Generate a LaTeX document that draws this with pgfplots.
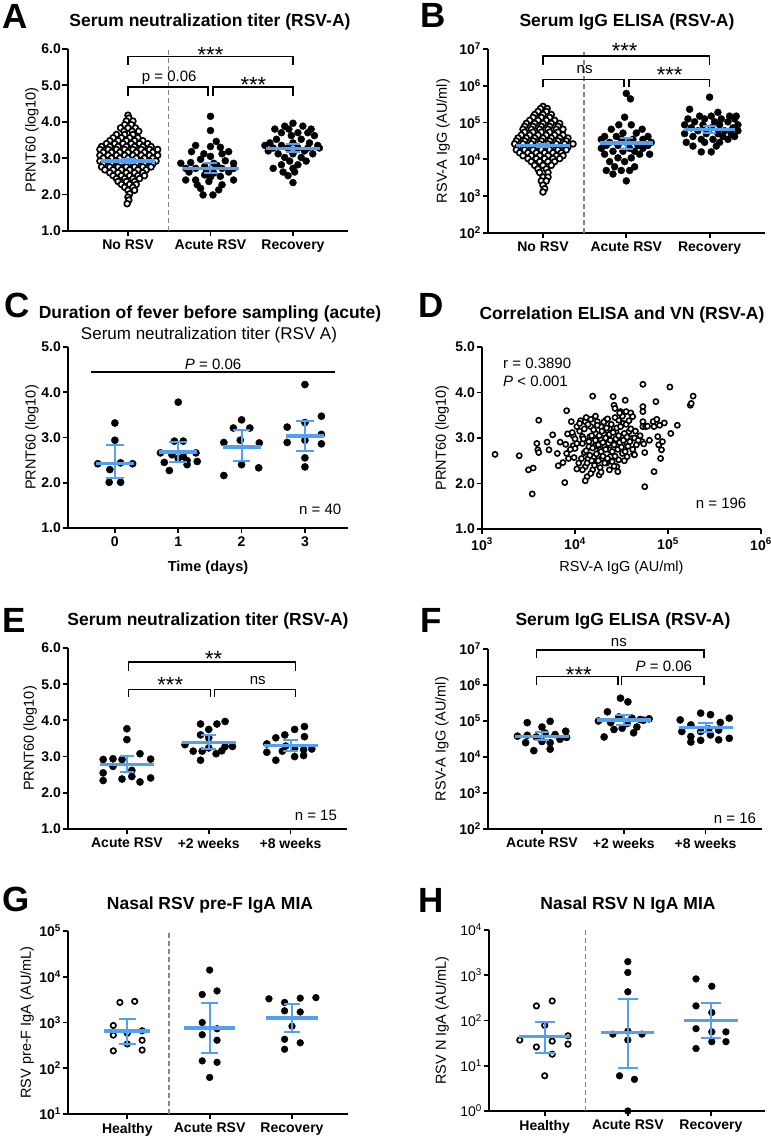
\documentclass[border=0pt]{standalone}
\usepackage{fontspec}
\setmainfont{Liberation Sans}
\usepackage{pgfplots}
\pgfplotsset{compat=1.18}
\definecolor{mblue}{RGB}{82,160,240}
\definecolor{dgray}{RGB}{135,135,135}
\newcommand{\tlf}{\fontsize{14}{16}\selectfont\bfseries}
\newcommand{\lbf}{\fontsize{14.5}{17}\selectfont}
\newcommand{\anf}{\fontsize{15}{17}\selectfont}
\newcommand{\asf}{\fontsize{22}{22}\selectfont}
\newcommand{\ttf}{\fontsize{17.5}{20}\selectfont\bfseries}
\newcommand{\sttf}{\fontsize{17}{20}\selectfont}
\newcommand{\ltf}{\fontsize{35}{36}\selectfont\bfseries}
\pgfplotsset{
 prism/.style={scale only axis, clip=false, clip marker paths=true, anchor=south west,
   axis x line*=bottom, axis y line*=left,
   axis line style={line width=1.8pt, black},
   tick style={line width=1.8pt, black},
   tick align=outside, major tick length=5.5pt,
   ticklabel style={font=\tlf},
   yticklabel style={inner xsep=1.5pt},
   every axis y label/.style={rotate=90, anchor=center, font=\lbf},
   every axis x label/.style={anchor=center, font=\lbf},
   yminorticks=false, xminorticks=false},
 dots/.style={only marks, mark=*, mark size=3.5pt, mark options={draw=none, fill=black}},
 odots/.style={only marks, mark=*, mark size=2.9pt, mark options={fill=white, draw=black, line width=1.7pt}},
 meanl/.style={mblue, line width=3.5pt, no markers},
 ci/.style={mblue, line width=2pt, no markers},
 brk/.style={black, line width=1.5pt, no markers},
 vdash/.style={dgray, line width=1.5pt, dash pattern=on 5pt off 3pt, no markers},
}
% center x, half width, mean, lo, hi, cap half width
\newcommand{\mci}[6]{%
 \pgfmathsetmacro{\xa}{#1-#2}\pgfmathsetmacro{\xb}{#1+#2}%
 \pgfmathsetmacro{\ca}{#1-#6}\pgfmathsetmacro{\cb}{#1+#6}%
 \edef\tmp{\noexpand\addplot[ci] coordinates {(#1,#4) (#1,#5)};
   \noexpand\addplot[ci] coordinates {(\ca,#4) (\cb,#4)};
   \noexpand\addplot[ci] coordinates {(\ca,#5) (\cb,#5)};
   \noexpand\addplot[meanl] coordinates {(\xa,#3) (\xb,#3)};}%
 \tmp}
\begin{document}
\begin{tikzpicture}
\useasboundingbox (0,0) rectangle (771pt,1141pt);
% ================= A
\begin{axis}[prism, at={(68pt,910pt)}, width=280pt, height=182pt,
 xmin=-0.727, xmax=2.667, ymin=1, ymax=6,
 xtick={0,1,2}, xticklabels={No RSV, Acute RSV, Recovery},
 ytick={1,2,3,4,5,6}, yticklabels={1.0,2.0,3.0,4.0,5.0,6.0},
 ylabel={PRNT60 (log10)}, ylabel style={at={(axis description cs:-0.129,0.5)}}]
\addplot[vdash] coordinates {(0.49,1) (0.49,6)};
\addplot[odots] coordinates {(0,4.18) (0.01,4.10) (-0.02,4.02) (0.06,4.02) (-0.04,3.92) (0.04,3.92) (-0.09,3.83) (0,3.83) (0.09,3.83) (-0.05,3.74) (0.05,3.74) (0.13,3.74) (-0.14,3.65) (-0.04,3.65) (0.06,3.65) (-0.18,3.56) (-0.08,3.56) (0.02,3.56) (0.12,3.56) (-0.22,3.48) (-0.12,3.48) (-0.02,3.48) (0.08,3.48) (0.18,3.48) (-0.26,3.40) (-0.16,3.40) (-0.06,3.40) (0.04,3.40) (0.14,3.40) (0.24,3.40) (-0.32,3.32) (-0.22,3.32) (-0.12,3.32) (-0.02,3.32) (0.08,3.32) (0.18,3.32) (0.28,3.32) (-0.34,3.24) (-0.24,3.24) (-0.14,3.24) (-0.04,3.24) (0.06,3.24) (0.16,3.24) (0.26,3.24) (0.36,3.24) (-0.30,3.16) (-0.20,3.16) (-0.10,3.16) (0,3.16) (0.10,3.16) (0.20,3.16) (0.30,3.16) (-0.34,3.08) (-0.24,3.08) (-0.14,3.08) (-0.04,3.08) (0.06,3.08) (0.16,3.08) (0.26,3.08) (0.36,3.08) (-0.30,3.00) (-0.20,3.00) (-0.10,3.00) (0,3.00) (0.10,3.00) (0.20,3.00) (0.30,3.00) (-0.34,2.92) (-0.24,2.92) (-0.14,2.92) (-0.04,2.92) (0.06,2.92) (0.16,2.92) (0.26,2.92) (0.34,2.92) (-0.30,2.84) (-0.20,2.84) (-0.10,2.84) (0,2.84) (0.10,2.84) (0.20,2.84) (0.30,2.84) (-0.32,2.76) (-0.22,2.76) (-0.12,2.76) (-0.02,2.76) (0.08,2.76) (0.18,2.76) (0.28,2.76) (-0.28,2.68) (-0.18,2.68) (-0.08,2.68) (0.02,2.68) (0.12,2.68) (0.22,2.68) (-0.22,2.60) (-0.12,2.60) (-0.02,2.60) (0.08,2.60) (0.18,2.60) (-0.18,2.52) (-0.08,2.52) (0.02,2.52) (0.12,2.52) (0.20,2.52) (-0.14,2.44) (-0.04,2.44) (0.06,2.44) (0.14,2.44) (-0.12,2.36) (-0.02,2.36) (0.08,2.36) (-0.08,2.28) (0.02,2.28) (0.10,2.28) (-0.04,2.20) (0.06,2.20) (0,2.12) (0.08,2.12) (0.02,2.02) (0,1.93) (0.01,1.85) (-0.01,1.75)};
\addplot[dots] coordinates {(1,4.15) (1,3.76) (1.07,3.46) (0.82,3.35) (1,3.32) (1.12,3.30) (0.77,3.18) (0.92,3.12) (1.22,3.18) (1.14,3.12) (1,3.05) (0.64,2.86) (0.76,2.88) (0.88,2.97) (1.04,2.86) (1.18,2.93) (1.28,2.86) (0.70,2.72) (0.82,2.72) (0.93,2.77) (1.14,2.72) (1.28,2.72) (0.74,2.62) (1.22,2.62) (0.95,2.68) (1.08,2.80) (0.70,2.40) (0.82,2.40) (0.93,2.54) (1.04,2.59) (1.12,2.50) (1.28,2.40) (0.84,2.27) (0.98,2.36) (1.14,2.27) (0.88,2.17) (1.10,2.13) (0.91,1.99) (1.03,1.99) (1.0,2.48)};
\addplot[dots] coordinates {(2,3.96) (1.90,3.88) (2.12,3.88) (1.78,3.80) (1.95,3.80) (2.22,3.80) (1.86,3.70) (2.06,3.70) (2.18,3.70) (1.98,3.62) (2.26,3.62) (1.80,3.52) (2.10,3.52) (1.72,3.42) (2.0,3.42) (2.20,3.42) (1.66,3.35) (1.86,3.35) (2.30,3.35) (1.76,3.28) (1.94,3.28) (2.06,3.28) (2.18,3.28) (2.32,3.28) (1.70,3.20) (2.14,3.20) (1.82,3.12) (2.0,3.12) (2.24,3.12) (1.90,3.02) (2.10,3.02) (1.96,2.92) (2.16,2.92) (1.86,2.82) (2.06,2.82) (1.76,2.72) (2.0,2.72) (1.88,2.62) (2.02,2.62) (1.94,2.52) (2,2.33)};
\mci{0}{0.33}{2.92}{2.87}{2.97}{0.08}
\mci{1}{0.34}{2.72}{2.60}{2.86}{0.08}
\mci{2}{0.33}{3.27}{3.16}{3.38}{0.08}
\addplot[brk] coordinates {(0,5.57) (0,5.80) (2,5.80) (2,5.57)};
\addplot[brk] coordinates {(0,4.72) (0,4.95) (0.97,4.95) (0.97,4.72)};
\addplot[brk] coordinates {(1.03,4.72) (1.03,4.95) (2,4.95) (2,4.72)};
\node[anchor=base,font=\asf] at (axis cs:1,5.64) {***};
\node[anchor=base,font=\anf] at (axis cs:0.5,5.12) {p = 0.06};
\node[anchor=base,font=\asf] at (axis cs:1.52,4.80) {***};
\end{axis}
% ================= B
\begin{axis}[prism, at={(488pt,908pt)}, width=277pt, height=184pt, ymode=log,
 xmin=-0.66, xmax=2.665, ymin=1e2, ymax=1e7,
 xtick={0,1,2}, xticklabels={No RSV, Acute RSV, Recovery},
 ytick={1e2,1e3,1e4,1e5,1e6,1e7}, yticklabels={10\textsuperscript{2},10\textsuperscript{3},10\textsuperscript{4},10\textsuperscript{5},10\textsuperscript{6},10\textsuperscript{7}},
 ylabel={RSV-A IgG (AU/ml)}, ylabel style={at={(axis description cs:-0.162,0.5)}}]
\addplot[vdash] coordinates {(0.49,1e2) (0.49,1e7)};
\addplot[odots] coordinates {(0,2.75e5) (-0.03,2.4e5) (0.05,2.4e5) (-0.06,2.0e5) (0.04,2.0e5) (-0.10,1.66e5) (0,1.66e5) (0.10,1.66e5) (-0.12,1.38e5) (-0.02,1.38e5) (0.08,1.38e5) (-0.16,1.15e5) (-0.06,1.15e5) (0.04,1.15e5) (0.14,1.15e5) (-0.20,9.5e4) (-0.10,9.5e4) (0,9.5e4) (0.10,9.5e4) (0.20,9.5e4) (-0.22,7.9e4) (-0.12,7.9e4) (-0.02,7.9e4) (0.08,7.9e4) (0.18,7.9e4) (-0.24,6.6e4) (-0.14,6.6e4) (-0.04,6.6e4) (0.06,6.6e4) (0.16,6.6e4) (0.24,6.6e4) (-0.22,5.5e4) (-0.12,5.5e4) (-0.02,5.5e4) (0.08,5.5e4) (0.18,5.5e4) (-0.26,4.57e4) (-0.16,4.57e4) (-0.06,4.57e4) (0.04,4.57e4) (0.14,4.57e4) (0.24,4.57e4) (-0.30,3.8e4) (-0.20,3.8e4) (-0.10,3.8e4) (0,3.8e4) (0.10,3.8e4) (0.20,3.8e4) (0.30,3.8e4) (-0.32,3.16e4) (-0.22,3.16e4) (-0.12,3.16e4) (-0.02,3.16e4) (0.08,3.16e4) (0.18,3.16e4) (0.28,3.16e4) (-0.34,2.63e4) (-0.24,2.63e4) (-0.14,2.63e4) (-0.04,2.63e4) (0.06,2.63e4) (0.16,2.63e4) (0.26,2.63e4) (0.36,2.63e4) (-0.30,2.19e4) (-0.20,2.19e4) (-0.10,2.19e4) (0,2.19e4) (0.10,2.19e4) (0.20,2.19e4) (0.30,2.19e4) (-0.32,1.82e4) (-0.22,1.82e4) (-0.12,1.82e4) (-0.02,1.82e4) (0.08,1.82e4) (0.18,1.82e4) (0.28,1.82e4) (-0.28,1.51e4) (-0.18,1.51e4) (-0.08,1.51e4) (0.02,1.51e4) (0.12,1.51e4) (0.22,1.51e4) (-0.24,1.26e4) (-0.14,1.26e4) (-0.04,1.26e4) (0.06,1.26e4) (0.16,1.26e4) (0.24,1.26e4) (-0.18,1.05e4) (-0.08,1.05e4) (0.02,1.05e4) (0.12,1.05e4) (0.20,1.05e4) (-0.14,8.7e3) (-0.04,8.7e3) (0.06,8.7e3) (0.14,8.7e3) (-0.10,6.9e3) (0,6.9e3) (0.10,6.9e3) (-0.06,5.5e3) (0.04,5.5e3) (-0.04,4.4e3) (0.06,4.4e3) (0,3.3e3) (0.06,3.3e3) (-0.02,2.6e3) (0.04,2.6e3) (0,2.0e3) (0.02,1.6e3) (0,1.3e3)};
\addplot[dots] coordinates {(1,6.2e5) (1.05,4.4e5) (0.98,1.4e5) (0.91,8.7e4) (1.06,8.7e4) (0.82,6.6e4) (1.19,6.6e4) (0.96,5.2e4) (1.12,5.2e4) (0.74,4.2e4) (0.88,4.2e4) (1.26,4.2e4) (0.70,3.5e4) (0.94,3.5e4) (1.08,3.5e4) (1.20,3.5e4) (0.80,2.9e4) (1.0,2.9e4) (1.30,2.9e4) (0.76,2.4e4) (0.90,2.4e4) (1.14,2.4e4) (1.26,2.4e4) (0.70,2.0e4) (1.04,2.0e4) (1.20,2.0e4) (0.84,1.66e4) (0.96,1.66e4) (1.10,1.66e4) (0.74,1.38e4) (1.16,1.38e4) (1.28,1.38e4) (0.90,1.1e4) (1.06,1.1e4) (0.80,8.7e3) (0.98,8.7e3) (0.86,6.3e3) (1.10,6.3e3) (0.76,5.0e3) (0.94,5.0e3) (1.04,5.0e3) (0.84,4.0e3) (1.0,2.6e3)};
\addplot[dots] coordinates {(2,4.9e5) (1.76,2.3e5) (2.10,1.9e5) (1.88,1.5e5) (2.02,1.5e5) (2.24,1.5e5) (2.32,1.5e5) (1.74,1.26e5) (1.94,1.26e5) (2.14,1.26e5) (2.30,1.26e5) (1.82,1.05e5) (2.06,1.05e5) (2.22,1.05e5) (1.70,8.7e4) (1.92,8.7e4) (2.12,8.7e4) (2.34,8.7e4) (1.78,7.2e4) (2.02,7.2e4) (2.28,7.2e4) (1.86,6.0e4) (2.18,6.0e4) (2.34,6.0e4) (1.70,5.0e4) (1.96,5.0e4) (2.10,5.0e4) (2.26,5.0e4) (1.80,4.2e4) (2.16,4.2e4) (2.30,4.2e4) (1.90,3.5e4) (2.04,3.5e4) (2.22,3.5e4) (1.72,2.9e4) (1.94,2.9e4) (2.12,2.9e4) (1.80,2.3e4) (2.08,2.3e4) (1.90,1.6e4) (2.02,1.6e4)};
\mci{0}{0.32}{2.4e4}{2.2e4}{2.65e4}{0.08}
\mci{1}{0.32}{2.8e4}{1.9e4}{3.8e4}{0.08}
\mci{2}{0.31}{6.5e4}{5.2e4}{7.9e4}{0.08}
\addplot[brk] coordinates {(0,3.7e6) (0,6.46e6) (2,6.46e6) (2,3.7e6)};
\addplot[brk] coordinates {(0,9.1e5) (0,1.5e6) (0.97,1.5e6) (0.97,9.1e5)};
\addplot[brk] coordinates {(1.03,9.1e5) (1.03,1.5e6) (2,1.5e6) (2,9.1e5)};
\node[anchor=base,font=\asf] at (axis cs:0.98,5.4e6) {***};
\node[anchor=base,font=\anf] at (axis cs:0.5,2.1e6) {ns};
\node[anchor=base,font=\asf] at (axis cs:1.52,1.2e6) {***};
\end{axis}
% ================= C
\begin{axis}[prism, at={(68pt,613pt)}, width=280pt, height=181pt,
 xmin=-0.74, xmax=3.68, ymin=1, ymax=5,
 xtick={0,1,2,3}, xticklabels={0,1,2,3},
 ytick={1,2,3,4,5}, yticklabels={1.0,2.0,3.0,4.0,5.0},
 xlabel={\bfseries Time (days)}, xlabel style={at={(axis description cs:0.5,-0.221)}},
 ylabel={PRNT60 (log10)}, ylabel style={at={(axis description cs:-0.129,0.5)}}]
\addplot[dots, mark size=3.6pt] coordinates {(0,3.32) (0,2.94) (-0.27,2.42) (-0.08,2.29) (0.09,2.44) (0.28,2.42) (-0.09,2.01) (0.09,2.01)};
\addplot[dots, mark size=3.6pt] coordinates {(1,3.78) (0.94,2.92) (1.08,2.92) (0.72,2.66) (0.90,2.62) (1.08,2.58) (1.28,2.66) (0.78,2.45) (1.14,2.49) (1.30,2.47) (0.86,2.27) (1.14,2.40) (1.0,2.54)};
\addplot[dots, mark size=3.6pt] coordinates {(2,3.39) (1.87,3.21) (2.13,3.21) (1.72,2.89) (1.98,2.94) (2.28,2.88) (1.72,2.16) (2,2.40) (2.27,2.33)};
\addplot[dots, mark size=3.6pt] coordinates {(3,4.17) (2.72,3.23) (3.26,3.47) (3,3.33) (2.72,2.89) (3,2.94) (3.26,3.07) (3.26,2.86) (3,2.55) (3,2.35)};
\mci{0}{0.30}{2.43}{2.10}{2.83}{0.14}
\mci{1}{0.30}{2.68}{2.46}{2.90}{0.14}
\mci{2}{0.30}{2.79}{2.47}{3.16}{0.14}
\mci{3}{0.30}{3.03}{2.71}{3.36}{0.14}
\addplot[brk] coordinates {(-0.37,4.45) (3.47,4.45)};
\node[anchor=base,font=\anf] at (axis cs:1.55,4.51) {\textit{P} = 0.06};
\node[anchor=base east,font=\anf] at (axis cs:3.63,1.29) {n = 40};
\end{axis}
% ================= D
\begin{axis}[prism, at={(482pt,612pt)}, width=279pt, height=182pt,
 xmin=3, xmax=6, ymin=1, ymax=5,
 xtick={3,4,5,6}, xticklabels={10\textsuperscript{3},10\textsuperscript{4},10\textsuperscript{5},10\textsuperscript{6}},
 ytick={1,2,3,4,5}, yticklabels={1.0,2.0,3.0,4.0,5.0},
 xlabel={RSV-A IgG (AU/ml)}, xlabel style={at={(axis description cs:0.5,-0.214)}},
 ylabel={PRNT60 (log10)}, ylabel style={at={(axis description cs:-0.143,0.5)}}]
\addplot[odots, mark size=2.6pt, mark options={fill=white, draw=black, line width=1.6pt}] coordinates {(3.14,2.64) (3.40,2.61) (3.50,2.30) (3.55,2.34) (3.54,1.77) (3.59,2.88) (3.61,3.39) (3.60,2.74) (3.61,2.68) (3.70,2.91) (3.72,2.74) (3.76,3.07) (3.81,2.66) (3.82,2.39) (3.84,2.91) (3.87,2.46) (3.89,2.02) (3.91,3.60) (3.92,3.09) (3.90,2.86) (3.91,2.66) (3.96,3.36) (3.98,3.05) (3.98,2.83) (3.99,2.57) (4.00,2.77) (4.02,2.32) (4.04,2.45) (4.02,3.25) (4.06,3.38) (4.08,3.03) (4.08,2.88) (4.10,2.68) (4.11,2.37) (4.11,3.36) (4.13,2.15) (4.11,2.06) (4.14,2.55) (4.15,2.81) (4.16,3.03) (4.17,3.25) (4.17,3.41) (4.19,3.92) (4.19,2.30) (4.20,2.58) (4.21,2.82) (4.22,3.10) (4.24,3.36) (4.26,2.19) (4.27,2.74) (4.28,2.96) (4.28,3.25) (4.29,2.55) (4.31,3.10) (4.32,2.81) (4.33,3.39) (4.34,2.45) (4.35,3.03) (4.37,3.21) (4.37,2.74) (4.38,2.59) (4.39,2.92) (4.41,3.91) (4.42,3.72) (4.43,3.65) (4.44,3.14) (4.45,2.37) (4.46,2.26) (4.46,2.81) (4.47,2.52) (4.47,3.39) (4.49,3.58) (4.50,3.03) (4.51,2.66) (4.52,3.32) (4.54,3.83) (4.55,3.58) (4.56,2.88) (4.56,2.59) (4.58,3.14) (4.60,3.55) (4.61,2.99) (4.62,3.47) (4.63,2.65) (4.64,3.00) (4.66,2.85) (4.73,4.18) (4.73,3.69) (4.73,3.58) (4.73,3.36) (4.73,3.25) (4.72,2.92) (4.74,2.87) (4.75,2.68) (4.75,1.93) (4.76,3.25) (4.78,3.26) (4.84,3.36) (4.85,3.25) (4.87,3.80) (4.88,3.41) (4.89,3.03) (4.90,2.85) (4.91,3.28) (4.92,2.55) (4.93,2.74) (4.85,2.26) (4.96,3.33) (4.94,2.92) (5.02,4.12) (5.03,3.10) (5.10,3.28) (5.24,3.72) (5.25,3.76) (5.27,3.92) (4.64,2.63)
(4.02,2.88) (4.05,3.15) (4.07,2.55) (4.09,2.98) (4.10,3.20) (4.12,2.72) (4.13,2.45) (4.14,3.30) (4.15,2.92) (4.16,2.62) (4.18,3.05) (4.18,2.50) (4.19,2.78) (4.20,3.18) (4.21,2.40) (4.22,2.95) (4.23,2.65) (4.24,3.28) (4.25,2.85) (4.25,2.50) (4.26,3.05) (4.27,2.35) (4.28,2.70) (4.29,3.15) (4.30,2.90) (4.30,2.60) (4.31,3.35) (4.32,2.45) (4.33,3.00) (4.33,2.75) (4.34,3.22) (4.35,2.55) (4.36,2.88) (4.37,3.08) (4.37,2.30) (4.38,2.95) (4.39,3.30) (4.40,2.70) (4.40,2.48) (4.41,3.12) (4.42,2.85) (4.43,3.45) (4.43,2.60) (4.44,2.98) (4.45,3.22) (4.46,2.75) (4.47,3.05) (4.48,2.90) (4.49,3.25) (4.50,2.80) (4.51,3.48) (4.52,2.95) (4.53,3.10) (4.54,2.70) (4.55,3.30) (4.56,3.02) (4.57,2.82) (4.58,3.38) (4.59,2.92) (4.60,3.20) (4.05,3.32) (4.08,2.30) (4.12,3.45) (4.17,2.22) (4.22,3.48) (4.28,2.25) (4.35,3.42) (4.42,2.38) (4.48,3.55) (4.53,2.50) (3.95,2.75) (3.97,3.12) (3.93,2.55) (4.00,2.98) (4.62,2.75) (4.65,3.15) (4.68,2.95) (4.70,3.05) (4.80,2.95)};
\node[anchor=base west,font=\anf] at (axis cs:3.19,4.52) {r = 0.3890};
\node[anchor=base west,font=\anf] at (axis cs:3.19,4.14) {\textit{P} < 0.001};
\node[anchor=base east,font=\anf] at (axis cs:5.88,1.46) {n = 196};
\end{axis}
% ================= E
\begin{axis}[prism, at={(68pt,312pt)}, width=279pt, height=181pt,
 xmin=-0.72, xmax=2.69, ymin=1, ymax=6,
 xtick={0,1,2}, xticklabels={Acute RSV, +2 weeks, +8 weeks},
 ytick={1,2,3,4,5,6}, yticklabels={1.0,2.0,3.0,4.0,5.0,6.0},
 ylabel={PRNT60 (log10)}, ylabel style={at={(axis description cs:-0.136,0.5)}}]
\addplot[dots, mark size=3.6pt] coordinates {(0,3.77) (0,3.47) (-0.29,2.92) (-0.17,2.94) (-0.06,2.92) (0.16,3.08) (0.29,2.93) (-0.29,2.55) (-0.17,2.73) (0.06,2.62) (-0.29,2.34) (-0.06,2.38) (0.06,2.45) (0.16,2.30) (0.29,2.41)};
\addplot[dots, mark size=3.6pt] coordinates {(0.90,3.90) (1,3.75) (1.10,3.90) (1.20,3.97) (0.90,3.60) (1,3.52) (0.71,3.33) (0.81,3.15) (0.92,3.15) (1.0,3.24) (1.09,3.08) (0.90,2.90) (1.20,3.28) (1.29,3.28) (1.16,3.16)};
\addplot[dots, mark size=3.6pt] coordinates {(2.17,3.83) (2.05,3.75) (1.93,3.60) (1.82,3.52) (2.17,3.55) (1.71,3.35) (1.94,3.29) (2.26,3.21) (1.71,3.12) (1.90,3.15) (2.05,3.22) (2.16,3.19) (1.82,2.90) (2.05,3.0) (2.16,3.03)};
\mci{0}{0.33}{2.78}{2.57}{3.01}{0.09}
\mci{1}{0.33}{3.39}{3.22}{3.59}{0.09}
\mci{2}{0.33}{3.30}{3.15}{3.47}{0.09}
\addplot[brk] coordinates {(0.02,5.37) (0.02,5.62) (2.06,5.62) (2.06,5.37)};
\addplot[brk] coordinates {(0.02,4.65) (0.02,4.86) (1.02,4.86) (1.02,4.65)};
\addplot[brk] coordinates {(1.07,4.65) (1.07,4.86) (2.06,4.86) (2.06,4.65)};
\node[anchor=base,font=\asf] at (axis cs:1.06,5.48) {**};
\node[anchor=base,font=\asf] at (axis cs:0.53,4.78) {***};
\node[anchor=base,font=\anf] at (axis cs:1.6,5.0) {ns};
\node[anchor=base east,font=\anf] at (axis cs:2.61,1.23) {n = 15};
\end{axis}
% ================= F
\begin{axis}[prism, at={(488pt,312pt)}, width=274pt, height=180pt, ymode=log,
 xmin=-0.66, xmax=2.69, ymin=1e2, ymax=1e7,
 xtick={0,1,2}, xticklabels={Acute RSV, +2 weeks, +8 weeks},
 ytick={1e2,1e3,1e4,1e5,1e6,1e7}, yticklabels={10\textsuperscript{2},10\textsuperscript{3},10\textsuperscript{4},10\textsuperscript{5},10\textsuperscript{6},10\textsuperscript{7}},
 ylabel={RSV-A IgG (AU/ml)}, ylabel style={at={(axis description cs:-0.168,0.5)}}]
\addplot[dots, mark size=3.6pt] coordinates {(-0.18,9.0e4) (0.10,9.8e4) (0.29,5.2e4) (0.0,6.8e4) (-0.30,3.8e4) (-0.18,4.0e4) (-0.07,3.6e4) (0.16,4.2e4) (0.30,3.5e4) (-0.20,2.5e4) (0.0,2.7e4) (0.10,2.5e4) (0.22,3.1e4) (-0.10,1.5e4) (0.10,1.65e4) (0.04,4.6e4)};
\addplot[dots, mark size=3.6pt] coordinates {(0.96,4.3e5) (1.05,3.4e5) (0.80,1.8e5) (0.69,1.0e5) (0.94,1.3e5) (1.10,1.2e5) (1.20,1.1e5) (1.31,1.15e5) (0.76,3.6e4) (0.88,5.8e4) (0.98,6.3e4) (1.12,4.7e4) (1.04,8.5e4) (1.16,6.8e4) (0.84,9.0e4) (1.24,1.05e5)};
\addplot[dots, mark size=3.6pt] coordinates {(1.94,1.65e5) (2.06,1.5e5) (1.69,1.07e5) (1.82,7.8e4) (2.29,1.2e5) (2.18,9.1e4) (1.71,5.1e4) (1.94,5.1e4) (2.04,6.0e4) (2.16,5.6e4) (1.82,3.7e4) (1.94,2.9e4) (2.06,4.1e4) (2.16,3.0e4) (2.29,3.3e4) (1.82,2.6e4)};
\mci{0}{0.33}{3.7e4}{2.9e4}{5.1e4}{0.09}
\mci{1}{0.33}{1.07e5}{7.8e4}{1.5e5}{0.09}
\mci{2}{0.33}{6.6e4}{5.1e4}{8.7e4}{0.09}
\addplot[brk] coordinates {(-0.07,5.5e6) (-0.07,9.4e6) (1.98,9.4e6) (1.98,5.5e6)};
\addplot[brk] coordinates {(-0.07,1.0e6) (-0.07,1.7e6) (0.93,1.7e6) (0.93,1.0e6)};
\addplot[brk] coordinates {(0.97,1.0e6) (0.97,1.7e6) (1.98,1.7e6) (1.98,1.0e6)};
\node[anchor=base,font=\anf] at (axis cs:0.94,1.15e7) {ns};
\node[anchor=base,font=\asf] at (axis cs:0.45,1.2e6) {***};
\node[anchor=base,font=\anf] at (axis cs:1.49,2.35e6) {\textit{P} = 0.06};
\node[anchor=base east,font=\anf] at (axis cs:2.66,1.45e2) {n = 16};
\end{axis}
% ================= G
\begin{axis}[prism, at={(68pt,27pt)}, width=280pt, height=183pt, ymode=log,
 xmin=-0.72, xmax=2.68, ymin=1e1, ymax=1e5,
 xtick={0,1,2}, xticklabels={Healthy, Acute RSV, Recovery},
 ytick={1e1,1e2,1e3,1e4,1e5}, yticklabels={10\textsuperscript{1},10\textsuperscript{2},10\textsuperscript{3},10\textsuperscript{4},10\textsuperscript{5}},
 ylabel={RSV pre-F IgA (AU/mL)}, ylabel style={at={(axis description cs:-0.146,0.5)}}]
\addplot[vdash] coordinates {(0.505,1e1) (0.505,1e5)};
\addplot[odots, mark size=2.7pt, mark options={fill=white, draw=black, line width=1.7pt}] coordinates {(-0.09,2.75e3) (0.09,2.9e3) (-0.17,8.6e2) (-0.17,5.3e2) (0.0,5.8e2) (0.18,6.6e2) (0.18,4.1e2) (-0.17,2.4e2) (0.0,3.4e2) (0.18,2.5e2)};
\addplot[dots, mark size=3.4pt] coordinates {(1.0,1.4e4) (1.09,4.9e3) (0.91,4.1e3) (0.91,1.0e3) (1.09,7.3e2) (0.91,5.4e2) (1.09,4.1e2) (0.91,1.45e2) (1.09,1.35e2) (1.0,63)};
\addplot[dots, mark size=3.4pt] coordinates {(1.72,3.3e3) (1.91,2.75e3) (2.10,3.4e3) (2.29,3.5e3) (1.91,1.8e3) (2.10,1.7e3) (2.0,8.3e2) (1.91,4.3e2) (2.10,3.6e2) (1.91,2.6e2)};
\mci{0}{0.28}{6.5e2}{3.4e2}{1.2e3}{0.10}
\mci{1}{0.31}{7.6e2}{2.2e2}{2.7e3}{0.10}
\mci{2}{0.31}{1.26e3}{6.3e2}{2.6e3}{0.10}
\end{axis}
% ================= H
\begin{axis}[prism, at={(489pt,30pt)}, width=276pt, height=181pt, ymode=log,
 xmin=-0.67, xmax=2.65, ymin=1e0, ymax=1e4,
 xtick={0,1,2}, xticklabels={Healthy, Acute RSV, Recovery},
 ytick={1e0,1e1,1e2,1e3,1e4}, yticklabels={10\textsuperscript{0},10\textsuperscript{1},10\textsuperscript{2},10\textsuperscript{3},10\textsuperscript{4}},
 yticklabel style={font=\fontsize{14}{16}\selectfont\mdseries},
 ylabel={RSV N IgA (AU/mL)}, ylabel style={at={(axis description cs:-0.170,0.5)}}]
\addplot[vdash] coordinates {(0.49,1e0) (0.49,1e4)};
\addplot[odots, mark size=2.7pt, mark options={fill=white, draw=black, line width=1.7pt}] coordinates {(-0.10,2.1e2) (0.09,2.7e2) (0.0,78) (-0.30,37) (-0.10,26) (0.09,35) (0.28,46) (0.28,30) (0.09,18) (0.0,6.0)};
\addplot[dots, mark size=3.4pt] coordinates {(1,2.0e3) (1,1.15e3) (1,4.3e2) (0.82,50) (1,58) (1.17,50) (1,37) (0.90,6.0) (1.08,5.0) (1,1.0)};
\addplot[dots, mark size=3.4pt] coordinates {(1.82,8.3e2) (2.01,5.7e2) (1.82,2.1e2) (2.01,1.5e2) (1.82,66) (2.01,56) (2.18,56) (1.82,24) (2.01,34) (2.18,34)};
\mci{0}{0.31}{44}{19.5}{94}{0.12}
\mci{1}{0.32}{54}{9.0}{295}{0.12}
\mci{2}{0.32}{100}{42}{240}{0.12}
\end{axis}
% ================= titles and letters
\node[font=\ttf, anchor=base] at (210pt,1114pt) {Serum neutralization titer (RSV-A)};
\node[font=\ttf, anchor=base] at (627pt,1114pt) {Serum IgG ELISA (RSV-A)};
\node[font=\ttf, anchor=base] at (210pt,822pt) {Duration of fever before sampling (acute)};
\node[font=\sttf, anchor=base] at (209pt,801pt) {Serum neutralization titer (RSV A)};
\node[font=\ttf, anchor=base] at (622pt,821pt) {Correlation ELISA and VN (RSV-A)};
\node[font=\ttf, anchor=base] at (208pt,515pt) {Serum neutralization titer (RSV-A)};
\node[font=\ttf, anchor=base] at (623pt,515pt) {Serum IgG ELISA (RSV-A)};
\node[font=\ttf, anchor=base] at (210pt,231pt) {Nasal RSV pre-F IgA MIA};
\node[font=\ttf, anchor=base] at (628pt,231pt) {Nasal RSV N IgA MIA};
\node[font=\ltf, anchor=base west, inner sep=0] at (2pt,1112pt) {A};
\node[font=\ltf, anchor=base west, inner sep=0] at (420pt,1113pt) {B};
\node[font=\ltf, anchor=base west, inner sep=0] at (4pt,823pt) {C};
\node[font=\ltf, anchor=base west, inner sep=0] at (418pt,823pt) {D};
\node[font=\ltf, anchor=base west, inner sep=0] at (2pt,508pt) {E};
\node[font=\ltf, anchor=base west, inner sep=0] at (420pt,508pt) {F};
\node[font=\ltf, anchor=base west, inner sep=0] at (2pt,229pt) {G};
\node[font=\ltf, anchor=base west, inner sep=0] at (418pt,228pt) {H};
\end{tikzpicture}
\end{document}
